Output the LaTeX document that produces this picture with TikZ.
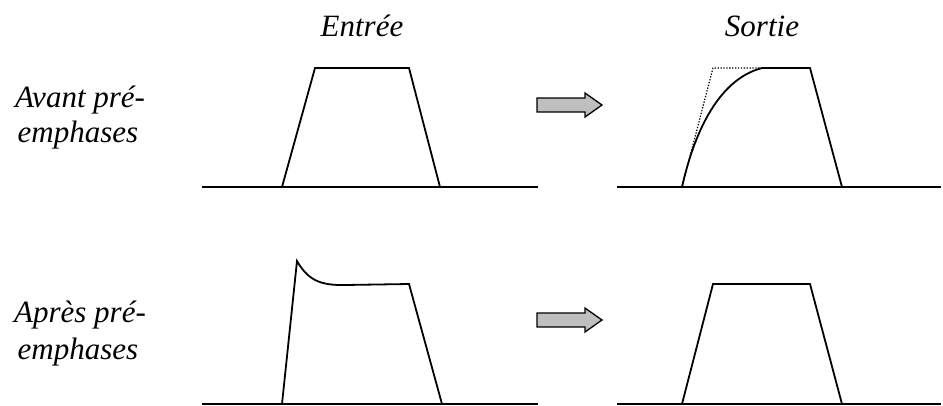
\documentclass[tikz,border=0pt]{standalone}
\usepackage{fontspec}
\setmainfont{Liberation Serif}
\tikzset{
  sig/.style={line width=1.8pt, line join=miter},
  ref/.style={line width=1.2pt, dash pattern=on 1.3pt off 1.6pt},
  lbl/.style={font=\fontsize{31}{38}\selectfont\itshape, anchor=base, inner sep=0pt},
  grayarrow/.style={fill=black!25, draw=black, line width=1.3pt, line join=miter},
}
\begin{document}
\begin{tikzpicture}[x=1pt,y=-1pt]
\useasboundingbox (0,0) rectangle (943,405);
% titles
\node[lbl] (entree) at (362,36) {Entrée};
\node[lbl] (sortie) at (762,36) {Sortie};
\node[lbl] (avant1) at (80,107) {Avant pré-};
\node[lbl] (avant2) at (78,142) {emphases};
\node[lbl] (apres1) at (80,322) {Après pré-};
\node[lbl] (apres2) at (78,359) {emphases};
% top-left input
\draw[sig] (202,187) -- (538,187);
\draw[sig] (282,187) -- (315,68) -- (409,68) -- (440,187);
% top-right output
\draw[sig] (617,187) -- (941,187);
\draw[ref] (682,187) -- (713,68) -- (762,68);
\draw[sig] (682,187) .. controls (693,138) and (716,80) .. (762,68) -- (810,68) -- (842,187);
% bottom-left input with pre-emphasis
\draw[sig] (202,404) -- (538,404);
\draw[sig] (282,404) -- (297,261) .. controls (308,280) and (320,285.5) .. (345,285) -- (409,284) -- (442,404);
% bottom-right output
\draw[sig] (617,404) -- (941,404);
\draw[sig] (682,404) -- (713,284) -- (810,284) -- (842,404);
% arrows
\draw[grayarrow] (537,98) -- (585,98) -- (585,93) -- (602,105) -- (585,117) -- (585,112) -- (537,112) -- cycle;
\draw[grayarrow] (537,313) -- (585,313) -- (585,308) -- (602,320) -- (585,332) -- (585,327) -- (537,327) -- cycle;
\end{tikzpicture}
\end{document}
